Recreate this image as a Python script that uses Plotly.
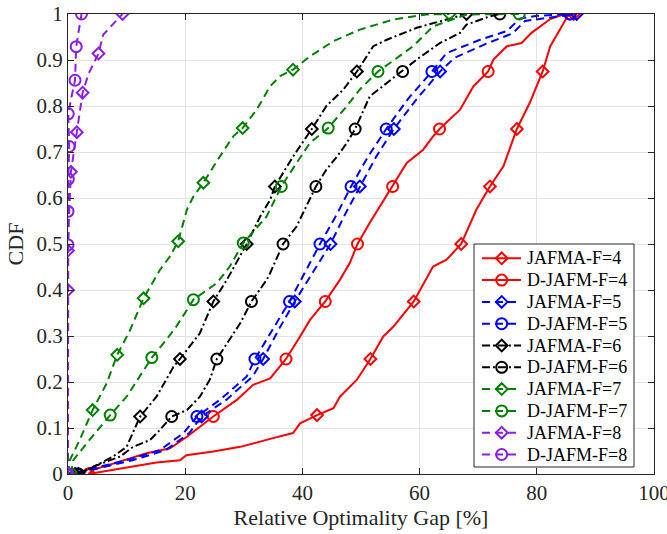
import plotly.graph_objects as go

# ---- empirical CDF curves: gap [%] (x) vs cumulative probability (y) ----
jafma4_x = [3.5, 9.4, 15.1, 19.1, 20.2, 24.8, 29.4, 35.0, 38.4, 39.6, 42.5, 45.3, 46.4, 49.3, 51.6,
            53.8, 55.5, 59.0, 62.3, 64.6, 67.1, 69.7, 72.0, 74.3, 76.6, 78.8, 81.0, 82.3, 84.0, 85.3, 86.3]
jafma4_y = [0.0, 0.013, 0.025, 0.030, 0.041, 0.049, 0.059, 0.078, 0.089, 0.110, 0.128, 0.143, 0.168, 0.205, 0.25,
            0.299, 0.320, 0.375, 0.451, 0.466, 0.50, 0.575, 0.625, 0.669, 0.75, 0.807, 0.875, 0.930, 0.966, 0.996, 1.0]
jafma4_mx = [3.5, 42.5, 51.6, 59.0, 67.1, 72.0, 76.6, 81.0, 86.3]
jafma4_my = [0.0, 0.128, 0.25, 0.375, 0.5, 0.625, 0.75, 0.875, 1.0]

djafm4_x = [3.5, 4.3, 13.4, 17.4, 20.3, 22.5, 24.8, 28.8, 31.6, 34.5, 37.2, 39.6, 41.3, 43.9, 46.4, 48.1,
            49.4, 51.5, 55.4, 57.8, 60.6, 62.3, 63.4, 66.9, 69.2, 71.7, 72.6, 74.9, 77.4, 79.1, 82.3, 84.5, 85.6]
djafm4_y = [0.0, 0.009, 0.045, 0.056, 0.081, 0.103, 0.125, 0.161, 0.194, 0.208, 0.25, 0.299, 0.335, 0.375, 0.422, 0.459,
            0.50, 0.546, 0.625, 0.676, 0.705, 0.734, 0.75, 0.792, 0.843, 0.875, 0.901, 0.930, 0.937, 0.959, 0.989, 0.999, 1.0]
djafm4_mx = [3.5, 24.8, 37.2, 43.9, 49.4, 55.4, 63.4, 71.7, 85.6]
djafm4_my = [0.0, 0.125, 0.25, 0.375, 0.5, 0.625, 0.75, 0.875, 1.0]

jafma5_x = [1.8, 4.0, 11.0, 16.7, 20.7, 22.8, 27.0, 31.5, 33.3, 36.0, 38.7, 41.8, 44.8, 47.3, 49.8, 52.6,
            55.6, 59.5, 63.5, 66.0, 71.3, 75.9, 78.0, 81.0, 86.8]
jafma5_y = [0.0, 0.009, 0.030, 0.052, 0.089, 0.125, 0.161, 0.212, 0.25, 0.315, 0.375, 0.44, 0.50, 0.565, 0.625, 0.69,
            0.75, 0.815, 0.875, 0.905, 0.935, 0.958, 0.985, 0.990, 1.0]
jafma5_mx = [1.8, 22.8, 33.3, 38.7, 44.8, 49.8, 55.6, 63.5, 86.8]
jafma5_my = [0.0, 0.125, 0.25, 0.375, 0.5, 0.625, 0.75, 0.875, 1.0]

djafm5_x = [1.5, 3.2, 10.0, 15.7, 19.7, 22.0, 25.9, 30.5, 31.9, 35.0, 37.8, 40.5, 43.0, 45.9, 48.3, 51.2,
            54.3, 58.0, 62.1, 64.6, 70.3, 74.9, 77.1, 80.0, 85.7]
djafm5_y = [0.0, 0.009, 0.030, 0.052, 0.089, 0.125, 0.161, 0.212, 0.25, 0.315, 0.375, 0.44, 0.50, 0.565, 0.625, 0.69,
            0.75, 0.815, 0.875, 0.915, 0.944, 0.963, 0.990, 0.996, 1.0]
djafm5_mx = [1.5, 22.0, 31.9, 37.8, 43.0, 48.3, 54.3, 62.1, 85.7]
djafm5_my = [0.0, 0.125, 0.25, 0.375, 0.5, 0.625, 0.75, 0.875, 1.0]

jafma6_x = [1.2, 3.8, 7.7, 10.0, 12.3, 15.1, 18.0, 19.1, 22.5, 24.2, 24.8, 27.1, 29.4, 30.5, 32.8, 34.5,
            35.3, 38.4, 41.6, 44.1, 47.0, 49.3, 52.1, 54.4, 59.5, 64.6, 68.0]
jafma6_y = [0.0, 0.012, 0.038, 0.059, 0.125, 0.168, 0.233, 0.25, 0.306, 0.357, 0.375, 0.422, 0.473, 0.50, 0.56, 0.596,
            0.625, 0.69, 0.75, 0.80, 0.836, 0.875, 0.930, 0.944, 0.970, 0.988, 1.0]
jafma6_mx = [1.2, 12.3, 19.1, 24.8, 30.5, 35.3, 41.6, 49.3, 68.0]
jafma6_my = [0.0, 0.125, 0.25, 0.375, 0.5, 0.625, 0.75, 0.875, 1.0]

djafm6_x = [1.8, 4.3, 8.9, 11.1, 14.0, 15.7, 17.7, 20.3, 22.5, 24.2, 25.4, 27.6, 29.4, 31.3, 33.9, 34.5,
            36.7, 39.0, 40.7, 42.3, 44.1, 45.9, 47.6, 49.0, 51.5, 54.4, 57.1, 59.5, 63.5, 66.9, 68.0, 72.0, 73.7]
djafm6_y = [0.0, 0.016, 0.038, 0.059, 0.074, 0.096, 0.125, 0.139, 0.168, 0.205, 0.25, 0.292, 0.328, 0.375, 0.422, 0.437,
            0.50, 0.538, 0.582, 0.625, 0.662, 0.69, 0.72, 0.75, 0.821, 0.85, 0.875, 0.901, 0.937, 0.959, 0.977, 0.995, 1.0]
djafm6_mx = [1.8, 17.7, 25.4, 31.3, 36.7, 42.3, 49.0, 57.1, 73.7]
djafm6_my = [0.0, 0.125, 0.25, 0.375, 0.5, 0.625, 0.75, 0.875, 1.0]

jafma7_x = [0.0, 0.3, 2.0, 4.2, 6.6, 8.4, 10.6, 12.3, 12.9, 15.7, 17.4, 18.8, 20.3, 21.4, 23.1, 25.9,
            28.2, 29.8, 32.2, 34.5, 36.2, 38.4, 41.3, 45.3, 49.8, 55.5, 61.2, 65.1]
jafma7_y = [0.0, 0.030, 0.074, 0.139, 0.197, 0.259, 0.313, 0.364, 0.382, 0.444, 0.473, 0.506, 0.575, 0.603, 0.633, 0.69,
            0.734, 0.752, 0.792, 0.843, 0.865, 0.879, 0.908, 0.941, 0.966, 0.988, 0.999, 1.0]
jafma7_mx = [0.0, 4.2, 8.4, 12.9, 18.8, 23.1, 29.8, 38.4, 65.1]
jafma7_my = [0.0, 0.139, 0.259, 0.382, 0.506, 0.633, 0.752, 0.879, 1.0]

djafm7_x = [0.5, 0.9, 3.2, 5.5, 7.2, 10.0, 12.3, 14.3, 16.8, 18.5, 21.4, 25.4, 27.6, 29.9, 33.9, 36.4,
            39.0, 41.3, 44.4, 47.6, 49.8, 52.9, 55.0, 58.9, 62.3, 68.0, 77.0]
djafm7_y = [0.0, 0.030, 0.067, 0.103, 0.128, 0.168, 0.212, 0.253, 0.292, 0.321, 0.379, 0.415, 0.451, 0.502, 0.56, 0.625,
            0.676, 0.72, 0.752, 0.80, 0.836, 0.875, 0.894, 0.930, 0.973, 0.999, 1.0]
djafm7_mx = [0.5, 7.2, 14.3, 21.4, 29.9, 36.4, 44.4, 52.9, 77.0]
djafm7_my = [0.0, 0.128, 0.253, 0.379, 0.502, 0.625, 0.752, 0.875, 1.0]

jafma8_x = [0.0, 0.0, 0.0, 0.2, 0.5, 1.0, 1.5, 2.0, 2.5, 3.5, 5.2, 6.0, 7.5, 9.3]
jafma8_y = [0.0, 0.40, 0.486, 0.571, 0.657, 0.70, 0.743, 0.79, 0.829, 0.87, 0.914, 0.955, 0.975, 1.0]
jafma8_mx = [0.0, 0.0, 0.0, 0.5, 1.5, 2.5, 5.2, 9.3]
jafma8_my = [0.0, 0.40, 0.486, 0.657, 0.743, 0.829, 0.914, 1.0]

djafm8_x = [0.0, 0.0, 0.0, 0.05, 0.2, 0.05, 0.6, 1.2, 1.4, 2.3]
djafm8_y = [0.0, 0.498, 0.571, 0.641, 0.712, 0.783, 0.82, 0.856, 0.929, 1.0]
djafm8_mx = [0.0, 0.0, 0.0, 0.05, 0.2, 0.05, 1.2, 1.4, 2.3]
djafm8_my = [0.0, 0.498, 0.571, 0.641, 0.712, 0.783, 0.856, 0.929, 1.0]

names = ["JAFMA-F=4", "D-JAFM-F=4", "JAFMA-F=5", "D-JAFM-F=5", "JAFMA-F=6",
         "D-JAFM-F=6", "JAFMA-F=7", "D-JAFM-F=7", "JAFMA-F=8", "D-JAFM-F=8"]

x_ticks = [0, 20, 40, 60, 80, 100]
y_ticks = [0, 0.1, 0.2, 0.3, 0.4, 0.5, 0.6, 0.7, 0.8, 0.9, 1.0]
y_tick_text = ["0", "0.1", "0.2", "0.3", "0.4", "0.5", "0.6", "0.7", "0.8", "0.9", "1"]

RED, BLUE, BLACK, GREEN, PURPLE = "#ff0000", "#0000ff", "#000000", "#008000", "#8a1ee6"
DASH = "8px,5px"
DASHDOT = "8px,3px,2px,3px"

series = [
    (jafma4_x, jafma4_y, jafma4_mx, jafma4_my, RED, "solid", "diamond-open"),
    (djafm4_x, djafm4_y, djafm4_mx, djafm4_my, RED, "solid", "circle-open"),
    (jafma5_x, jafma5_y, jafma5_mx, jafma5_my, BLUE, DASH, "diamond-open"),
    (djafm5_x, djafm5_y, djafm5_mx, djafm5_my, BLUE, DASH, "circle-open"),
    (jafma6_x, jafma6_y, jafma6_mx, jafma6_my, BLACK, DASHDOT, "diamond-open"),
    (djafm6_x, djafm6_y, djafm6_mx, djafm6_my, BLACK, DASHDOT, "circle-open"),
    (jafma7_x, jafma7_y, jafma7_mx, jafma7_my, GREEN, DASH, "diamond-open"),
    (djafm7_x, djafm7_y, djafm7_mx, djafm7_my, GREEN, DASH, "circle-open"),
    (jafma8_x, jafma8_y, jafma8_mx, jafma8_my, PURPLE, DASH, "diamond-open"),
    (djafm8_x, djafm8_y, djafm8_mx, djafm8_my, PURPLE, DASH, "circle-open"),
]

FONT = "Liberation Serif"
TXT = "#262626"

# figure geometry (pixels)
W, H = 667, 534
ML, MR, MT, MB = 68, 13, 14, 60

fig = go.Figure()
for name, (x, y, mx, my, color, dash, sym) in zip(names, series):
    msize = 9 if sym.startswith("diamond") else 11
    fig.add_trace(go.Scatter(x=x, y=y, mode="lines", line=dict(color=color, width=2, dash=dash),
                             showlegend=False, hoverinfo="skip"))
    fig.add_trace(go.Scatter(x=mx, y=my, mode="markers", showlegend=False,
                             marker=dict(symbol=sym, size=msize, color=color, line=dict(color=color, width=2))))

# ---- compact legend box drawn on a pixel-scaled overlay axis ----
box_l, box_r, box_t, box_b = 474, 634, 244, 467
row0, row_step = 258.3, 21.8
sym_l, sym_r, sym_c, text_x = 482, 521, 501.7, 525

fig.add_trace(go.Scatter(x=[box_l, box_r, box_r, box_l, box_l], y=[box_t, box_t, box_b, box_b, box_t],
                         mode="lines", fill="toself", fillcolor="white", line=dict(color=TXT, width=1),
                         xaxis="x2", yaxis="y2", showlegend=False, hoverinfo="skip"))
annotations = []
for i, (name, (_, _, _, _, color, dash, sym)) in enumerate(zip(names, series)):
    cy = row0 + row_step * i
    msize = 9 if sym.startswith("diamond") else 11
    fig.add_trace(go.Scatter(x=[sym_l, sym_r], y=[cy, cy], mode="lines", line=dict(color=color, width=2, dash=dash),
                             xaxis="x2", yaxis="y2", showlegend=False, hoverinfo="skip"))
    fig.add_trace(go.Scatter(x=[sym_c], y=[cy], mode="markers",
                             marker=dict(symbol=sym, size=msize, color=color, line=dict(color=color, width=2)),
                             xaxis="x2", yaxis="y2", showlegend=False, hoverinfo="skip"))
    annotations.append(dict(x=text_x, y=cy, xref="x2", yref="y2", text=name, showarrow=False,
                            xanchor="left", yanchor="middle", font=dict(family=FONT, size=18, color="black")))

axis_common = dict(
    showgrid=True, gridcolor="#e3e3e3", gridwidth=1,
    showline=True, linecolor=TXT, linewidth=1, mirror="ticks",
    ticks="inside", ticklen=6, tickcolor=TXT,
    zeroline=False, tickfont=dict(family=FONT, size=21, color=TXT),
    ticklabeloverflow="allow", automargin=False,
)

fig.update_layout(
    width=W, height=H,
    margin=dict(l=ML, r=MR, t=MT, b=MB, autoexpand=False),
    paper_bgcolor="white", plot_bgcolor="white",
    font=dict(family=FONT, color=TXT),
    showlegend=False,
    annotations=annotations,
    xaxis=dict(range=[0, 100], tickvals=x_ticks, ticktext=[str(v) for v in x_ticks],
               title=dict(text="Relative Optimality Gap [%]", font=dict(family=FONT, size=22, color=TXT),
                          standoff=4),
               **axis_common),
    yaxis=dict(range=[0, 1], tickvals=y_ticks, ticktext=y_tick_text,
               title=dict(text="CDF", font=dict(family=FONT, size=22, color=TXT), standoff=6),
               **axis_common),
    xaxis2=dict(overlaying="x", range=[ML, W - MR], visible=False, fixedrange=True, automargin=False),
    yaxis2=dict(overlaying="y", range=[H - MB, MT], visible=False, fixedrange=True, automargin=False),
)

fig.write_html("out.html")
